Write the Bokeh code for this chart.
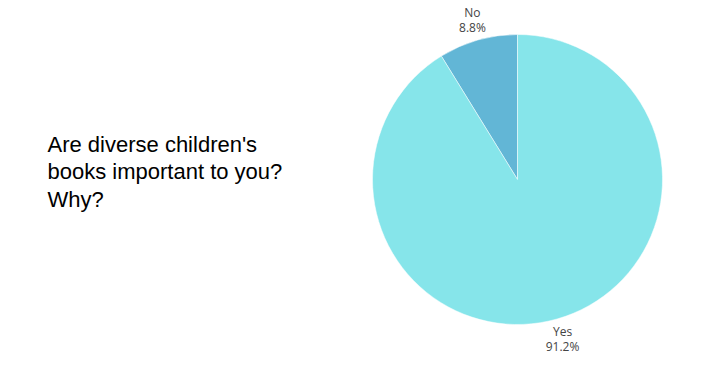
import math
from bokeh.plotting import figure
from bokeh.models import Range1d, ColumnDataSource
from bokeh.core.properties import value
from bokeh.embed import file_html
from bokeh.resources import INLINE

categories = ["No", "Yes"]
percents = [8.8, 91.2]
colors = ["#62B6D6", "#86E5EA"]
title_text = "Are diverse children's\nbooks important to you?\nWhy?"

W, H = 724, 380
cx, cy, r = 517, H - 179, 145

start, starts, ends, lx, ly, labels = math.pi / 2, [], [], [], [], []
for cat, pct in zip(categories, percents):
    span = pct / 100 * 2 * math.pi
    starts.append(start)
    ends.append(start + span)
    mid = start + span / 2
    lx.append(cx + (r + 20) * math.cos(mid))
    ly.append(cy + (r + 21) * math.sin(mid))
    labels.append(f"{cat}\n{pct}%")
    start += span

src = ColumnDataSource(dict(start=starts, end=ends, color=colors, lx=lx, ly=ly, label=labels))

p = figure(width=W, height=H, x_range=Range1d(0, W), y_range=Range1d(0, H),
           output_backend="svg", toolbar_location=None, min_border=0)
p.axis.visible = False
p.grid.visible = False
p.outline_line_color = None
p.background_fill_color = "white"
p.border_fill_color = "white"

p.wedge(x=cx, y=cy, radius=r, start_angle="start", end_angle="end",
        fill_color="color", line_color="white", line_width=0.5, source=src)

p.text(x="lx", y="ly", text="label", source=src, text_align="center", text_baseline="middle",
       text_font=value("Open Sans"), text_font_size="12px", text_color="#444444",
       text_line_height=0.9)

p.text(x=[47], y=[H - 131], text=[title_text], text_align="left", text_baseline="top",
       text_font=value("Liberation Sans"), text_font_size="22px", text_color="#000000",
       text_line_height=1.1)

open("out.html", "w").write(file_html(p, INLINE))
